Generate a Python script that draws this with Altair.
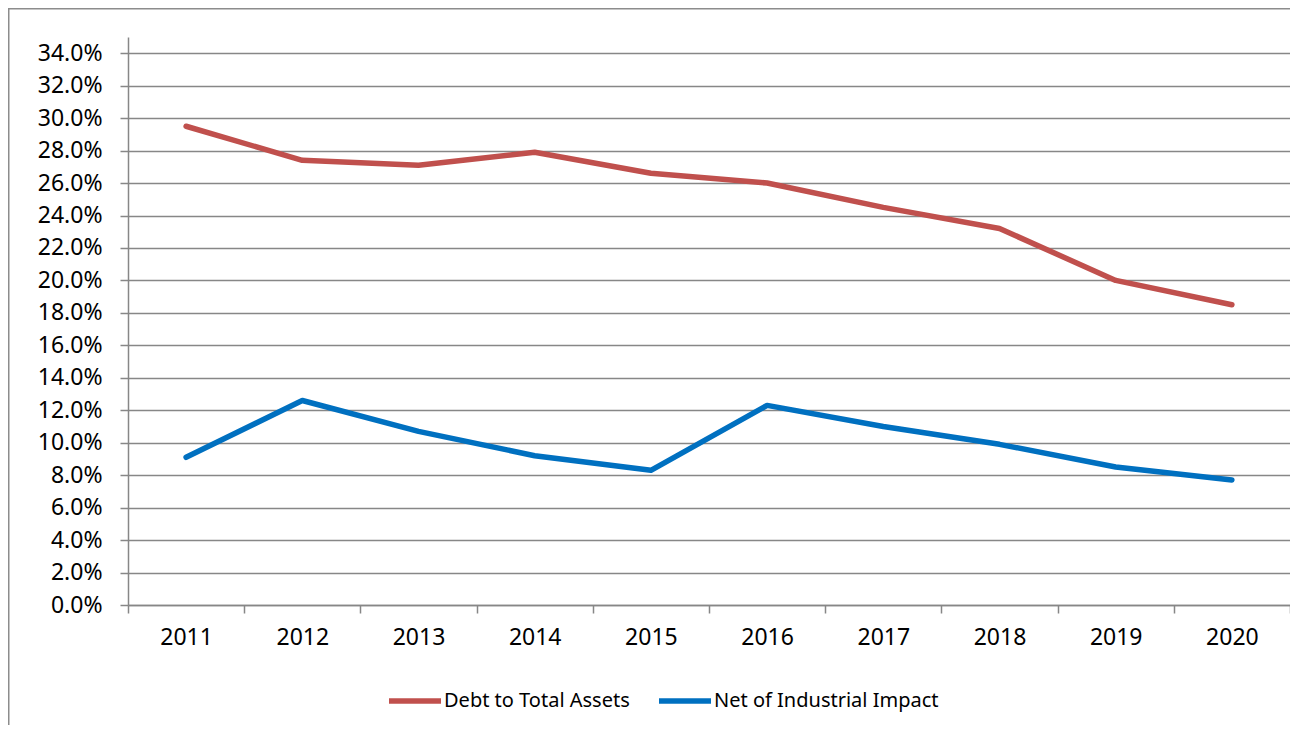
import altair as alt
import pandas as pd

years = ["2011", "2012", "2013", "2014", "2015", "2016", "2017", "2018", "2019", "2020"]
debt_to_total_assets = [0.295, 0.274, 0.271, 0.279, 0.266, 0.260, 0.245, 0.232, 0.200, 0.185]
net_of_industrial = [0.091, 0.126, 0.107, 0.092, 0.083, 0.123, 0.110, 0.099, 0.085, 0.077]
series_names = ["Debt to Total Assets", "Net of Industrial Impact"]
series_colors = ["#C0504D", "#0070C0"]
y_ticks = [i / 100 for i in range(0, 35, 2)]

rows = []
for name, vals in zip(series_names, [debt_to_total_assets, net_of_industrial]):
    for yr, v in zip(years, vals):
        rows.append({"year": yr, "value": v, "series": name})
df = pd.DataFrame(rows)

W, H = 1162, 568
GRID = "#878787"

lines = alt.Chart(df).mark_line(strokeWidth=5.5, strokeCap="round", strokeJoin="round").encode(
    x=alt.X("year:N", sort=years, bandPosition=0.5,
            scale=alt.Scale(type="band", paddingInner=0, paddingOuter=0),
            axis=alt.Axis(title=None, tickBand="extent", labelAngle=0, grid=False,
                          domainColor=GRID, domainWidth=1.5, tickColor=GRID, tickWidth=1.5,
                          tickSize=8, labelPadding=13, labelFont="Noto Sans", labelFontSize=23,
                          labelColor="#000000")),
    y=alt.Y("value:Q", scale=alt.Scale(domain=[0, 0.35], nice=False, zero=True),
            axis=alt.Axis(title=None, values=y_ticks, format=".1%", grid=True,
                          gridColor=GRID, gridWidth=1.5, domainColor=GRID, domainWidth=1.5,
                          tickColor=GRID, tickWidth=1.5, tickSize=8, labelPadding=18,
                          labelFont="Noto Sans", labelFontSize=23, labelColor="#000000")),
    color=alt.Color("series:N",
                    scale=alt.Scale(domain=series_names, range=series_colors),
                    legend=alt.Legend(title=None, orient="none", legendX=258, legendY=635,
                                      direction="horizontal", symbolType="stroke",
                                      symbolSize=2704, symbolStrokeWidth=5.5,
                                      labelFont="Noto Sans", labelFontSize=20,
                                      labelColor="#000000", labelOffset=0, labelLimit=0,
                                      columnPadding=18, padding=0)),
)

frame = alt.Chart(alt.Data(values=[{}])).mark_rect(
    fill=None, fillOpacity=0, stroke="#8c8c8c", strokeWidth=1.5
).encode(
    x=alt.value(-119.25), x2=alt.value(W + 40),
    y=alt.value(-28.25), y2=alt.value(H + 300),
)

chart = alt.layer(frame, lines).properties(
    width=W, height=H,
    autosize=alt.AutoSizeParams(type="none"),
    padding={"left": 120, "top": 29, "right": 0, "bottom": 120},
).configure_view(stroke=None)

chart.save("out.html", embed_options={"renderer": "svg", "actions": False})
